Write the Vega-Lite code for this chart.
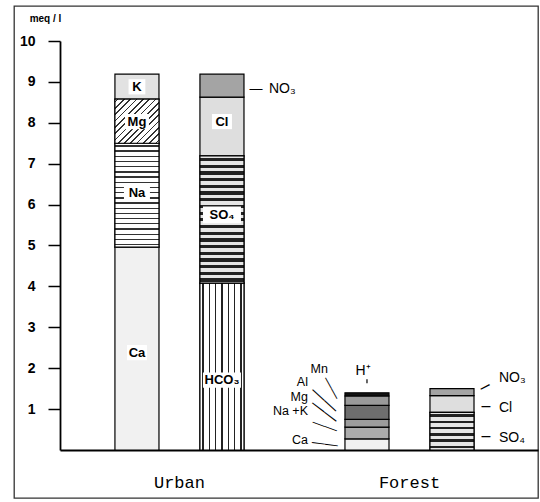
{
  "$schema": "https://vega.github.io/schema/vega-lite/v6.json",
  "width": 524,
  "height": 492,
  "autosize": "none",
  "padding": {"left": 14, "top": 6, "right": 2, "bottom": 4},
  "background": "white",
  "config": {
    "view": {"stroke": "#333", "strokeWidth": 1.3},
    "font": "Liberation Sans"
  },
  "datasets": {
    "segs": [
      {"site": "Urban", "side": "cations", "k": 1, "ion": "Ca", "meq": 4.96},
      {"site": "Urban", "side": "cations", "k": 2, "ion": "Na", "meq": 2.54},
      {"site": "Urban", "side": "cations", "k": 3, "ion": "Mg", "meq": 1.08},
      {"site": "Urban", "side": "cations", "k": 4, "ion": "K", "meq": 0.61},
      {"site": "Urban", "side": "anions", "k": 1, "ion": "HCO3", "meq": 4.08},
      {"site": "Urban", "side": "anions", "k": 2, "ion": "SO4", "meq": 3.11},
      {"site": "Urban", "side": "anions", "k": 3, "ion": "Cl", "meq": 1.44},
      {"site": "Urban", "side": "anions", "k": 4, "ion": "NO3", "meq": 0.56},
      {"site": "Forest", "side": "cations", "k": 1, "ion": "Ca", "meq": 0.27},
      {"site": "Forest", "side": "cations", "k": 2, "ion": "Na+K", "meq": 0.29},
      {"site": "Forest", "side": "cations", "k": 3, "ion": "Mg", "meq": 0.19},
      {"site": "Forest", "side": "cations", "k": 4, "ion": "Al", "meq": 0.34},
      {"site": "Forest", "side": "cations", "k": 5, "ion": "Mn", "meq": 0.23},
      {"site": "Forest", "side": "cations", "k": 6, "ion": "H+", "meq": 0.08},
      {"site": "Forest", "side": "anions", "k": 1, "ion": "SO4", "meq": 0.92},
      {"site": "Forest", "side": "anions", "k": 2, "ion": "Cl", "meq": 0.41},
      {"site": "Forest", "side": "anions", "k": 3, "ion": "NO3", "meq": 0.17}
    ],
    "inlab": [
      {"site": "Urban", "side": "cations", "t": "K", "y0": 8.88},
      {"site": "Urban", "side": "cations", "t": "Mg", "y0": 8.03},
      {"site": "Urban", "side": "cations", "t": "Na", "y0": 6.28},
      {"site": "Urban", "side": "cations", "t": "Ca", "y0": 2.38},
      {"site": "Urban", "side": "anions", "t": "Cl", "y0": 8.03},
      {"site": "Urban", "side": "anions", "t": "SO₄", "y0": 5.75},
      {"site": "Urban", "side": "anions", "t": "HCO₃", "y0": 1.71}
    ],
    "fclab": [
      {"site": "Forest", "side": "cations", "t": "Mn", "y0": 1.99},
      {"site": "Forest", "side": "cations", "t": "Al", "y0": 1.66},
      {"site": "Forest", "side": "cations", "t": "Mg", "y0": 1.30},
      {"site": "Forest", "side": "cations", "t": "Na +K", "y0": 0.96},
      {"site": "Forest", "side": "cations", "t": "Ca", "y0": 0.24}
    ],
    "alab": [
      {"site": "Urban", "side": "anions", "t": "NO₃", "y0": 8.83},
      {"site": "Forest", "side": "anions", "t": "NO₃", "y0": 1.76},
      {"site": "Forest", "side": "anions", "t": "Cl", "y0": 1.03},
      {"site": "Forest", "side": "anions", "t": "SO₄", "y0": 0.29}
    ],
    "lead": [
      {"site": "Forest", "side": "cations", "id": "Mn", "y0": 1.52},
      {"site": "Forest", "side": "cations", "id": "Al", "y0": 1.23},
      {"site": "Forest", "side": "cations", "id": "Mg", "y0": 0.95},
      {"site": "Forest", "side": "cations", "id": "Na+K", "y0": 0.59},
      {"site": "Forest", "side": "cations", "id": "Ca", "y0": 0.16},
      {"site": "Urban", "side": "anions", "id": "NO3u", "y0": 8.83},
      {"site": "Forest", "side": "anions", "id": "NO3f", "y0": 1.55},
      {"site": "Forest", "side": "anions", "id": "Clf", "y0": 1.08},
      {"site": "Forest", "side": "anions", "id": "SO4f", "y0": 0.33}
    ],
    "hlab": [
      {"site": "Forest", "side": "cations", "t": "H⁺", "y0": 1.93}
    ],
    "htick": [
      {"site": "Forest", "side": "cations", "y0": 1.63, "y1": 1.73}
    ]
  },
  "encoding": {
    "x": {
      "field": "site", "type": "nominal",
      "scale": {"domain": ["Urban", "Forest"], "paddingInner": 0.439, "paddingOuter": 0.3585, "align": 0.612},
      "axis": {
        "orient": "bottom", "offset": -48, "ticks": false,
        "domainColor": "black", "domainWidth": 2, "domainDash": [0, 46, 485, 100],
        "labelFont": "Liberation Mono", "labelFontSize": 17, "labelColor": "black",
        "labelPadding": 37, "labelBaseline": "alphabetic", "labelAngle": 0, "title": null
      }
    },
    "xOffset": {
      "field": "side", "type": "nominal",
      "scale": {"domain": ["cations", "anions"], "paddingInner": 0.482, "paddingOuter": 0}
    },
    "y": {
      "field": "y0", "type": "quantitative",
      "scale": {"domain": [-1.174, 10.856], "nice": false, "zero": false},
      "axis": {
        "values": [1, 2, 3, 4, 5, 6, 7, 8, 9, 10], "offset": -46, "grid": false,
        "tickSize": 12, "tickWidth": 1.5, "tickColor": "black",
        "domainColor": "black", "domainWidth": 1.8, "domainDash": [0, 48, 409, 100],
        "labelFont": "Liberation Sans", "labelFontWeight": "bold", "labelFontSize": 14,
        "labelColor": "black", "labelPadding": 13,
        "title": "meq / l", "titleAngle": 0, "titleX": -15, "titleY": 12,
        "titleAlign": "center", "titleBaseline": "middle", "titleFontSize": 10,
        "titleFontWeight": "bold", "titleFont": "Liberation Sans", "titleColor": "black"
      }
    }
  },
  "layer": [
    {
      "data": {"name": "segs"},
      "transform": [
        {"stack": "meq", "groupby": ["site", "side"], "sort": [{"field": "k", "order": "ascending"}], "as": ["y0", "y1"]}
      ],
      "mark": {"type": "bar", "stroke": "black", "strokeWidth": 1.2},
      "encoding": {
        "y2": {"field": "y1"},
        "fill": {
          "field": "ion", "type": "nominal", "legend": null,
          "scale": {
            "domain": ["Ca", "Na", "Mg", "K", "HCO3", "SO4", "Cl", "NO3", "Na+K", "Al", "Mn", "H+"],
            "range": ["#f1f1f1", "#d0d0d0", "#9c9c9c", "#e2e2e2", "#dadada", "#8a8a8a", "#dedede", "#a4a4a4", "#acacac", "#6e6e6e", "#9a9a9a", "#111111"]
          }
        }
      }
    },
    {
      "data": {"name": "segs"},
      "transform": [
        {"stack": "meq", "groupby": ["site", "side"], "sort": [{"field": "k", "order": "ascending"}], "as": ["y0", "y1"]},
        {"filter": "datum.site == 'Urban' && datum.ion == 'Na'"}
      ],
      "mark": {
        "type": "bar", "stroke": "black", "strokeWidth": 1.2,
        "fill": {"gradient": "linear", "x1": 0, "y1": 0, "x2": 0, "y2": 1, "stops": [
          {"offset": 0, "color": "#fff"},
          {"offset": 0.019, "color": "#fff"}, {"offset": 0.019, "color": "#333"}, {"offset": 0.032, "color": "#333"}, {"offset": 0.032, "color": "#fff"},
          {"offset": 0.069, "color": "#fff"}, {"offset": 0.069, "color": "#333"}, {"offset": 0.082, "color": "#333"}, {"offset": 0.082, "color": "#fff"},
          {"offset": 0.119, "color": "#fff"}, {"offset": 0.119, "color": "#333"}, {"offset": 0.132, "color": "#333"}, {"offset": 0.132, "color": "#fff"},
          {"offset": 0.169, "color": "#fff"}, {"offset": 0.169, "color": "#333"}, {"offset": 0.182, "color": "#333"}, {"offset": 0.182, "color": "#fff"},
          {"offset": 0.219, "color": "#fff"}, {"offset": 0.219, "color": "#333"}, {"offset": 0.232, "color": "#333"}, {"offset": 0.232, "color": "#fff"},
          {"offset": 0.269, "color": "#fff"}, {"offset": 0.269, "color": "#333"}, {"offset": 0.282, "color": "#333"}, {"offset": 0.282, "color": "#fff"},
          {"offset": 0.319, "color": "#fff"}, {"offset": 0.319, "color": "#333"}, {"offset": 0.332, "color": "#333"}, {"offset": 0.332, "color": "#fff"},
          {"offset": 0.369, "color": "#fff"}, {"offset": 0.369, "color": "#333"}, {"offset": 0.382, "color": "#333"}, {"offset": 0.382, "color": "#fff"},
          {"offset": 0.419, "color": "#fff"}, {"offset": 0.419, "color": "#333"}, {"offset": 0.432, "color": "#333"}, {"offset": 0.432, "color": "#fff"},
          {"offset": 0.469, "color": "#fff"}, {"offset": 0.469, "color": "#333"}, {"offset": 0.482, "color": "#333"}, {"offset": 0.482, "color": "#fff"},
          {"offset": 0.519, "color": "#fff"}, {"offset": 0.519, "color": "#333"}, {"offset": 0.532, "color": "#333"}, {"offset": 0.532, "color": "#fff"},
          {"offset": 0.569, "color": "#fff"}, {"offset": 0.569, "color": "#333"}, {"offset": 0.582, "color": "#333"}, {"offset": 0.582, "color": "#fff"},
          {"offset": 0.619, "color": "#fff"}, {"offset": 0.619, "color": "#333"}, {"offset": 0.632, "color": "#333"}, {"offset": 0.632, "color": "#fff"},
          {"offset": 0.669, "color": "#fff"}, {"offset": 0.669, "color": "#333"}, {"offset": 0.682, "color": "#333"}, {"offset": 0.682, "color": "#fff"},
          {"offset": 0.719, "color": "#fff"}, {"offset": 0.719, "color": "#333"}, {"offset": 0.732, "color": "#333"}, {"offset": 0.732, "color": "#fff"},
          {"offset": 0.769, "color": "#fff"}, {"offset": 0.769, "color": "#333"}, {"offset": 0.782, "color": "#333"}, {"offset": 0.782, "color": "#fff"},
          {"offset": 0.819, "color": "#fff"}, {"offset": 0.819, "color": "#333"}, {"offset": 0.832, "color": "#333"}, {"offset": 0.832, "color": "#fff"},
          {"offset": 0.869, "color": "#fff"}, {"offset": 0.869, "color": "#333"}, {"offset": 0.882, "color": "#333"}, {"offset": 0.882, "color": "#fff"},
          {"offset": 0.919, "color": "#fff"}, {"offset": 0.919, "color": "#333"}, {"offset": 0.932, "color": "#333"}, {"offset": 0.932, "color": "#fff"},
          {"offset": 0.969, "color": "#fff"}, {"offset": 0.969, "color": "#333"}, {"offset": 0.982, "color": "#333"}, {"offset": 0.982, "color": "#fff"},
          {"offset": 1, "color": "#fff"}
        ]}
      },
      "encoding": {"y2": {"field": "y1"}}
    },
    {
      "data": {"name": "segs"},
      "transform": [
        {"stack": "meq", "groupby": ["site", "side"], "sort": [{"field": "k", "order": "ascending"}], "as": ["y0", "y1"]},
        {"filter": "datum.site == 'Urban' && datum.ion == 'HCO3'"}
      ],
      "mark": {
        "type": "bar", "stroke": "black", "strokeWidth": 1.2,
        "fill": {"gradient": "linear", "x1": 0, "y1": 0, "x2": 1, "y2": 0, "stops": [
          {"offset": 0, "color": "#fff"},
          {"offset": 0.056, "color": "#fff"}, {"offset": 0.056, "color": "#222"}, {"offset": 0.088, "color": "#222"}, {"offset": 0.088, "color": "#fff"},
          {"offset": 0.199, "color": "#fff"}, {"offset": 0.199, "color": "#222"}, {"offset": 0.231, "color": "#222"}, {"offset": 0.231, "color": "#fff"},
          {"offset": 0.342, "color": "#fff"}, {"offset": 0.342, "color": "#222"}, {"offset": 0.374, "color": "#222"}, {"offset": 0.374, "color": "#fff"},
          {"offset": 0.485, "color": "#fff"}, {"offset": 0.485, "color": "#222"}, {"offset": 0.517, "color": "#222"}, {"offset": 0.517, "color": "#fff"},
          {"offset": 0.628, "color": "#fff"}, {"offset": 0.628, "color": "#222"}, {"offset": 0.660, "color": "#222"}, {"offset": 0.660, "color": "#fff"},
          {"offset": 0.771, "color": "#fff"}, {"offset": 0.771, "color": "#222"}, {"offset": 0.803, "color": "#222"}, {"offset": 0.803, "color": "#fff"},
          {"offset": 0.914, "color": "#fff"}, {"offset": 0.914, "color": "#222"}, {"offset": 0.946, "color": "#222"}, {"offset": 0.946, "color": "#fff"},
          {"offset": 1, "color": "#fff"}
        ]}
      },
      "encoding": {"y2": {"field": "y1"}}
    },
    {
      "data": {"name": "segs"},
      "transform": [
        {"stack": "meq", "groupby": ["site", "side"], "sort": [{"field": "k", "order": "ascending"}], "as": ["y0", "y1"]},
        {"filter": "datum.site == 'Urban' && datum.ion == 'SO4'"}
      ],
      "mark": {
        "type": "bar", "stroke": "black", "strokeWidth": 1.2,
        "fill": {"gradient": "linear", "x1": 0, "y1": 0, "x2": 0, "y2": 1, "stops": [
          {"offset": 0, "color": "#e6e6e6"},
          {"offset": 0.016, "color": "#e6e6e6"}, {"offset": 0.016, "color": "#222"}, {"offset": 0.041, "color": "#222"}, {"offset": 0.041, "color": "#e6e6e6"},
          {"offset": 0.069, "color": "#e6e6e6"}, {"offset": 0.069, "color": "#222"}, {"offset": 0.094, "color": "#222"}, {"offset": 0.094, "color": "#e6e6e6"},
          {"offset": 0.121, "color": "#e6e6e6"}, {"offset": 0.121, "color": "#222"}, {"offset": 0.146, "color": "#222"}, {"offset": 0.146, "color": "#e6e6e6"},
          {"offset": 0.174, "color": "#e6e6e6"}, {"offset": 0.174, "color": "#222"}, {"offset": 0.199, "color": "#222"}, {"offset": 0.199, "color": "#e6e6e6"},
          {"offset": 0.227, "color": "#e6e6e6"}, {"offset": 0.227, "color": "#222"}, {"offset": 0.252, "color": "#222"}, {"offset": 0.252, "color": "#e6e6e6"},
          {"offset": 0.279, "color": "#e6e6e6"}, {"offset": 0.279, "color": "#222"}, {"offset": 0.304, "color": "#222"}, {"offset": 0.304, "color": "#e6e6e6"},
          {"offset": 0.332, "color": "#e6e6e6"}, {"offset": 0.332, "color": "#222"}, {"offset": 0.357, "color": "#222"}, {"offset": 0.357, "color": "#e6e6e6"},
          {"offset": 0.384, "color": "#e6e6e6"}, {"offset": 0.384, "color": "#222"}, {"offset": 0.409, "color": "#222"}, {"offset": 0.409, "color": "#e6e6e6"},
          {"offset": 0.437, "color": "#e6e6e6"}, {"offset": 0.437, "color": "#222"}, {"offset": 0.462, "color": "#222"}, {"offset": 0.462, "color": "#e6e6e6"},
          {"offset": 0.490, "color": "#e6e6e6"}, {"offset": 0.490, "color": "#222"}, {"offset": 0.515, "color": "#222"}, {"offset": 0.515, "color": "#e6e6e6"},
          {"offset": 0.542, "color": "#e6e6e6"}, {"offset": 0.542, "color": "#222"}, {"offset": 0.567, "color": "#222"}, {"offset": 0.567, "color": "#e6e6e6"},
          {"offset": 0.595, "color": "#e6e6e6"}, {"offset": 0.595, "color": "#222"}, {"offset": 0.620, "color": "#222"}, {"offset": 0.620, "color": "#e6e6e6"},
          {"offset": 0.648, "color": "#e6e6e6"}, {"offset": 0.648, "color": "#222"}, {"offset": 0.673, "color": "#222"}, {"offset": 0.673, "color": "#e6e6e6"},
          {"offset": 0.700, "color": "#e6e6e6"}, {"offset": 0.700, "color": "#222"}, {"offset": 0.725, "color": "#222"}, {"offset": 0.725, "color": "#e6e6e6"},
          {"offset": 0.753, "color": "#e6e6e6"}, {"offset": 0.753, "color": "#222"}, {"offset": 0.778, "color": "#222"}, {"offset": 0.778, "color": "#e6e6e6"},
          {"offset": 0.806, "color": "#e6e6e6"}, {"offset": 0.806, "color": "#222"}, {"offset": 0.831, "color": "#222"}, {"offset": 0.831, "color": "#e6e6e6"},
          {"offset": 0.858, "color": "#e6e6e6"}, {"offset": 0.858, "color": "#222"}, {"offset": 0.883, "color": "#222"}, {"offset": 0.883, "color": "#e6e6e6"},
          {"offset": 0.911, "color": "#e6e6e6"}, {"offset": 0.911, "color": "#222"}, {"offset": 0.936, "color": "#222"}, {"offset": 0.936, "color": "#e6e6e6"},
          {"offset": 0.963, "color": "#e6e6e6"}, {"offset": 0.963, "color": "#222"}, {"offset": 0.988, "color": "#222"}, {"offset": 0.988, "color": "#e6e6e6"},
          {"offset": 1, "color": "#e6e6e6"}
        ]}
      },
      "encoding": {"y2": {"field": "y1"}}
    },
    {
      "data": {"name": "segs"},
      "transform": [
        {"stack": "meq", "groupby": ["site", "side"], "sort": [{"field": "k", "order": "ascending"}], "as": ["y0", "y1"]},
        {"filter": "datum.site == 'Forest' && datum.ion == 'SO4'"}
      ],
      "mark": {
        "type": "bar", "stroke": "black", "strokeWidth": 1.2,
        "fill": {"gradient": "linear", "x1": 0, "y1": 0, "x2": 0, "y2": 1, "stops": [
          {"offset": 0, "color": "#e6e6e6"},
          {"offset": 0.05, "color": "#e6e6e6"}, {"offset": 0.05, "color": "#222"}, {"offset": 0.115, "color": "#222"}, {"offset": 0.115, "color": "#e6e6e6"},
          {"offset": 0.217, "color": "#e6e6e6"}, {"offset": 0.217, "color": "#222"}, {"offset": 0.282, "color": "#222"}, {"offset": 0.282, "color": "#e6e6e6"},
          {"offset": 0.383, "color": "#e6e6e6"}, {"offset": 0.383, "color": "#222"}, {"offset": 0.448, "color": "#222"}, {"offset": 0.448, "color": "#e6e6e6"},
          {"offset": 0.55, "color": "#e6e6e6"}, {"offset": 0.55, "color": "#222"}, {"offset": 0.615, "color": "#222"}, {"offset": 0.615, "color": "#e6e6e6"},
          {"offset": 0.717, "color": "#e6e6e6"}, {"offset": 0.717, "color": "#222"}, {"offset": 0.782, "color": "#222"}, {"offset": 0.782, "color": "#e6e6e6"},
          {"offset": 0.883, "color": "#e6e6e6"}, {"offset": 0.883, "color": "#222"}, {"offset": 0.948, "color": "#222"}, {"offset": 0.948, "color": "#e6e6e6"},
          {"offset": 1, "color": "#e6e6e6"}
        ]}
      },
      "encoding": {"y2": {"field": "y1"}}
    },
    {
      "data": {"name": "segs"},
      "transform": [
        {"stack": "meq", "groupby": ["site", "side"], "sort": [{"field": "k", "order": "ascending"}], "as": ["y0", "y1"]},
        {"filter": "datum.site == 'Urban' && datum.ion == 'Mg'"}
      ],
      "mark": {
        "type": "bar", "stroke": "black", "strokeWidth": 1.2,
        "fill": {"gradient": "linear", "x1": 0, "y1": 0, "x2": 1, "y2": 1, "stops": [
          {"offset": 0, "color": "#fff"},
          {"offset": 0.025, "color": "#fff"}, {"offset": 0.025, "color": "#333"}, {"offset": 0.045, "color": "#333"}, {"offset": 0.045, "color": "#fff"},
          {"offset": 0.096, "color": "#fff"}, {"offset": 0.096, "color": "#333"}, {"offset": 0.116, "color": "#333"}, {"offset": 0.116, "color": "#fff"},
          {"offset": 0.168, "color": "#fff"}, {"offset": 0.168, "color": "#333"}, {"offset": 0.188, "color": "#333"}, {"offset": 0.188, "color": "#fff"},
          {"offset": 0.239, "color": "#fff"}, {"offset": 0.239, "color": "#333"}, {"offset": 0.259, "color": "#333"}, {"offset": 0.259, "color": "#fff"},
          {"offset": 0.311, "color": "#fff"}, {"offset": 0.311, "color": "#333"}, {"offset": 0.331, "color": "#333"}, {"offset": 0.331, "color": "#fff"},
          {"offset": 0.382, "color": "#fff"}, {"offset": 0.382, "color": "#333"}, {"offset": 0.402, "color": "#333"}, {"offset": 0.402, "color": "#fff"},
          {"offset": 0.454, "color": "#fff"}, {"offset": 0.454, "color": "#333"}, {"offset": 0.474, "color": "#333"}, {"offset": 0.474, "color": "#fff"},
          {"offset": 0.525, "color": "#fff"}, {"offset": 0.525, "color": "#333"}, {"offset": 0.545, "color": "#333"}, {"offset": 0.545, "color": "#fff"},
          {"offset": 0.596, "color": "#fff"}, {"offset": 0.596, "color": "#333"}, {"offset": 0.616, "color": "#333"}, {"offset": 0.616, "color": "#fff"},
          {"offset": 0.668, "color": "#fff"}, {"offset": 0.668, "color": "#333"}, {"offset": 0.688, "color": "#333"}, {"offset": 0.688, "color": "#fff"},
          {"offset": 0.739, "color": "#fff"}, {"offset": 0.739, "color": "#333"}, {"offset": 0.759, "color": "#333"}, {"offset": 0.759, "color": "#fff"},
          {"offset": 0.811, "color": "#fff"}, {"offset": 0.811, "color": "#333"}, {"offset": 0.831, "color": "#333"}, {"offset": 0.831, "color": "#fff"},
          {"offset": 0.882, "color": "#fff"}, {"offset": 0.882, "color": "#333"}, {"offset": 0.902, "color": "#333"}, {"offset": 0.902, "color": "#fff"},
          {"offset": 0.954, "color": "#fff"}, {"offset": 0.954, "color": "#333"}, {"offset": 0.974, "color": "#333"}, {"offset": 0.974, "color": "#fff"},
          {"offset": 1, "color": "#fff"}
        ]}
      },
      "encoding": {"y2": {"field": "y1"}}
    },
    {
      "data": {"name": "inlab"},
      "mark": {"type": "point", "filled": true, "color": "white", "opacity": 1, "size": 1600, "strokeWidth": 0},
      "encoding": {
        "shape": {
          "field": "t", "type": "nominal", "legend": null,
          "scale": {
            "domain": ["K", "Mg", "Na", "Ca", "Cl", "SO₄", "HCO₃"],
            "range": [
              "M-0.42,-0.38H0.42V0.38H-0.42Z",
              "M-0.6,-0.38H0.6V0.38H-0.6Z",
              "M-0.65,-0.38H0.65V0.38H-0.65Z",
              "M-0.5,-0.38H0.5V0.38H-0.5Z",
              "M-0.5,-0.38H0.5V0.38H-0.5Z",
              "M-0.95,-0.42H0.95V0.42H-0.95Z",
              "M-0.95,-0.38H0.95V0.38H-0.95Z"
            ]
          }
        }
      }
    },
    {
      "data": {"name": "inlab"},
      "mark": {"type": "text", "font": "Liberation Sans", "fontWeight": "bold", "fontSize": 13, "color": "black", "baseline": "middle", "align": "center"},
      "encoding": {"text": {"field": "t"}}
    },
    {
      "data": {"name": "fclab"},
      "transform": [{"filter": "datum.t != 'Mn'"}],
      "mark": {"type": "text", "font": "Liberation Sans", "fontSize": 12.5, "color": "black", "baseline": "middle", "align": "right", "dx": -59},
      "encoding": {"text": {"field": "t"}}
    },
    {
      "data": {"name": "fclab"},
      "transform": [{"filter": "datum.t == 'Mn'"}],
      "mark": {"type": "text", "font": "Liberation Sans", "fontSize": 12.5, "color": "black", "baseline": "middle", "align": "right", "dx": -39},
      "encoding": {"text": {"field": "t"}}
    },
    {
      "data": {"name": "alab"},
      "mark": {"type": "text", "font": "Liberation Sans", "fontSize": 14, "color": "black", "baseline": "middle", "align": "left", "dx": 47},
      "encoding": {"text": {"field": "t"}}
    },
    {
      "data": {"name": "hlab"},
      "mark": {"type": "text", "font": "Liberation Sans", "fontSize": 14, "color": "black", "baseline": "middle", "align": "center", "dx": -4},
      "encoding": {"text": {"field": "t"}}
    },
    {
      "data": {"name": "htick"},
      "mark": {"type": "rule", "color": "black", "strokeWidth": 1.2},
      "encoding": {"y2": {"field": "y1"}}
    },
    {
      "data": {"name": "lead"},
      "transform": [{"filter": "datum.id == 'Mn'"}],
      "mark": {"type": "text", "text": "——", "font": "Liberation Sans", "fontSize": 12, "color": "black", "baseline": "middle", "align": "center", "radius": 35, "theta": -1.5708, "angle": 61}
    },
    {
      "data": {"name": "lead"},
      "transform": [{"filter": "datum.id == 'Al'"}],
      "mark": {"type": "text", "text": "——", "font": "Liberation Sans", "fontSize": 16, "color": "black", "baseline": "middle", "align": "center", "radius": 42, "theta": -1.5708, "angle": 43}
    },
    {
      "data": {"name": "lead"},
      "transform": [{"filter": "datum.id == 'Mg'"}],
      "mark": {"type": "text", "text": "——", "font": "Liberation Sans", "fontSize": 15, "color": "black", "baseline": "middle", "align": "center", "radius": 42, "theta": -1.5708, "angle": 37}
    },
    {
      "data": {"name": "lead"},
      "transform": [{"filter": "datum.id == 'Na+K'"}],
      "mark": {"type": "text", "text": "——", "font": "Liberation Sans", "fontSize": 13, "color": "black", "baseline": "middle", "align": "center", "radius": 42, "theta": -1.5708, "angle": 20}
    },
    {
      "data": {"name": "lead"},
      "transform": [{"filter": "datum.id == 'Ca'"}],
      "mark": {"type": "text", "text": "——", "font": "Liberation Sans", "fontSize": 13, "color": "black", "baseline": "middle", "align": "center", "radius": 42, "theta": -1.5708, "angle": 7}
    },
    {
      "data": {"name": "lead"},
      "transform": [{"filter": "datum.side == 'anions' && datum.id != 'NO3f' && datum.id != 'NO3u'"}],
      "mark": {"type": "text", "text": "–", "font": "Liberation Sans", "fontSize": 16, "color": "black", "baseline": "middle", "align": "center", "radius": 34, "theta": 1.5708}
    },
    {
      "data": {"name": "lead"},
      "transform": [{"filter": "datum.id == 'NO3u'"}],
      "mark": {"type": "text", "text": "—", "font": "Liberation Sans", "fontSize": 13, "color": "black", "baseline": "middle", "align": "center", "radius": 34, "theta": 1.5708}
    },
    {
      "data": {"name": "lead"},
      "transform": [{"filter": "datum.id == 'NO3f'"}],
      "mark": {"type": "text", "text": "–", "font": "Liberation Sans", "fontSize": 18, "color": "black", "baseline": "middle", "align": "center", "radius": 33, "theta": 1.5708, "angle": -27}
    }
  ]
}
